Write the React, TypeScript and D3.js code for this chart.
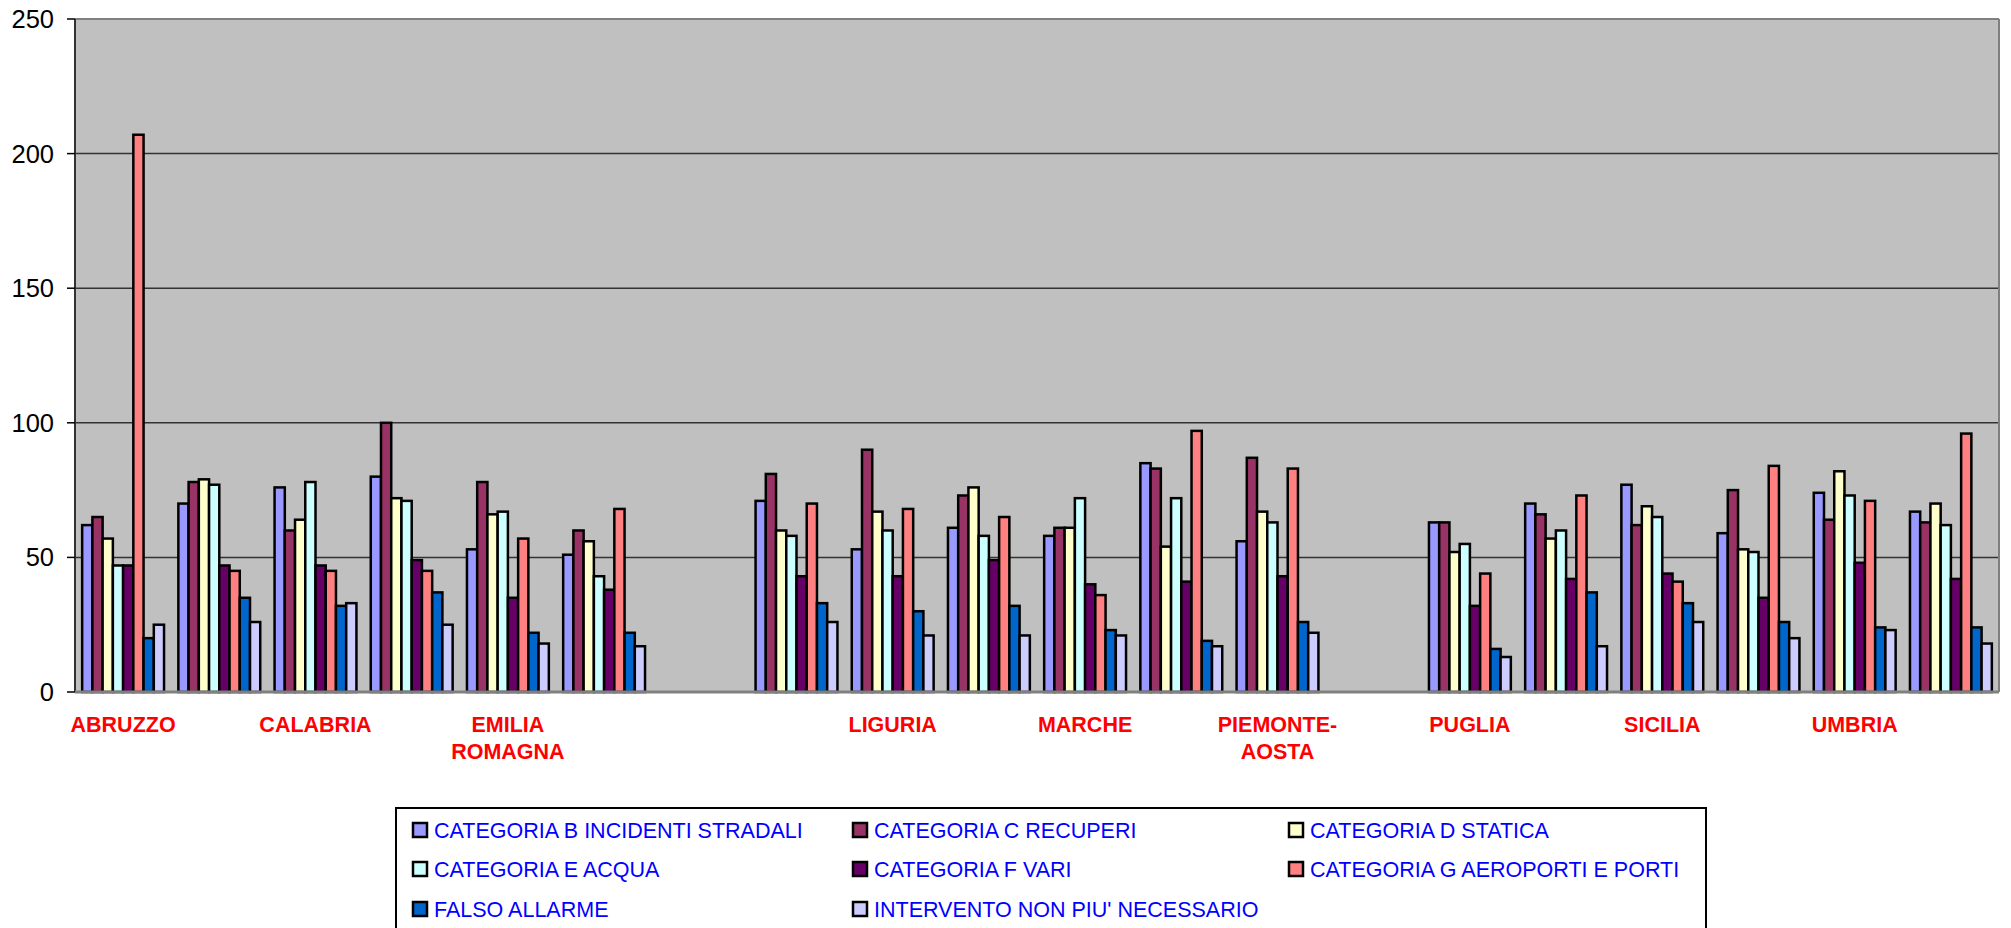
import React from "react";
import * as d3 from "d3";

const categories = [
  "ABRUZZO", "BASILICATA", "CALABRIA", "CAMPANIA", "EMILIA ROMAGNA",
  "FRIULI VENEZIA GIULIA", "", "LAZIO", "LIGURIA", "LOMBARDIA",
  "MARCHE", "MOLISE", "PIEMONTE-AOSTA", " ", "PUGLIA",
  "SARDEGNA", "SICILIA", "TOSCANA", "UMBRIA", "VENETO",
];

const seriesNames = [
  "CATEGORIA B INCIDENTI STRADALI",
  "CATEGORIA C RECUPERI",
  "CATEGORIA D STATICA",
  "CATEGORIA E ACQUA",
  "CATEGORIA F VARI",
  "CATEGORIA G AEROPORTI E PORTI",
  "FALSO ALLARME",
  "INTERVENTO NON PIU' NECESSARIO",
];

const seriesColors = ["#9999FF", "#993366", "#FFFFCC", "#CCFFFF", "#660066", "#FF8080", "#0066CC", "#CCCCFF"];

const catB = [62, 70, 76, 80, 53, 51, null, 71, 53, 61, 58, 85, 56, null, 63, 70, 77, 59, 74, 67];
const catC = [65, 78, 60, 100, 78, 60, null, 81, 90, 73, 61, 83, 87, null, 63, 66, 62, 75, 64, 63];
const catD = [57, 79, 64, 72, 66, 56, null, 60, 67, 76, 61, 54, 67, null, 52, 57, 69, 53, 82, 70];
const catE = [47, 77, 78, 71, 67, 43, null, 58, 60, 58, 72, 72, 63, null, 55, 60, 65, 52, 73, 62];
const catF = [47, 47, 47, 49, 35, 38, null, 43, 43, 49, 40, 41, 43, null, 32, 42, 44, 35, 48, 42];
const catG = [207, 45, 45, 45, 57, 68, null, 70, 68, 65, 36, 97, 83, null, 44, 73, 41, 84, 71, 96];
const falsoAllarme = [20, 35, 32, 37, 22, 22, null, 33, 30, 32, 23, 19, 26, null, 16, 37, 33, 26, 24, 24];
const interventoNonNecessario = [25, 26, 33, 25, 18, 17, null, 26, 21, 21, 21, 17, 22, null, 13, 17, 26, 20, 23, 18];

const seriesValues = [catB, catC, catD, catE, catF, catG, falsoAllarme, interventoNonNecessario];

const yTicks = [0, 50, 100, 150, 200, 250];

const W = 2011;
const H = 928;
const plot = { left: 75, right: 1999, top: 19, bottom: 692 };
const FONT = "'Liberation Sans', Arial, Helvetica, sans-serif";

function wrapLabel(s: string): string[] {
  if (s.length <= 10) return [s];
  const hy = s.indexOf("-");
  if (hy >= 0) return [s.slice(0, hy + 1), s.slice(hy + 1)];
  const sp = s.indexOf(" ");
  if (sp >= 0) return [s.slice(0, sp), s.slice(sp + 1)];
  return [s];
}

export default function App() {
  const x0 = d3.scaleBand<string>().domain(categories).range([plot.left, plot.right]).padding(0);
  const x1 = d3
    .scaleBand<string>()
    .domain(seriesNames)
    .range([0, x0.bandwidth()])
    .paddingInner(0)
    .paddingOuter(0.7);
  const y = d3.scaleLinear().domain([0, 250]).range([plot.bottom, plot.top]);

  const legendCols = [413, 853, 1289];
  const legendRows = [830, 869, 909];

  return (
    <svg
      width={W}
      height={H}
      style={{ position: "absolute", left: 0, top: 0, background: "#fff" }}
      fontFamily={FONT}
    >
      <rect x={0} y={0} width={W} height={H} fill="#fff" />
      {/* plot area */}
      <rect x={plot.left} y={plot.top} width={plot.right - plot.left} height={plot.bottom - plot.top} fill="#C0C0C0" />
      {/* gridlines */}
      {yTicks
        .filter((t) => t > 0 && t < 250)
        .map((t) => (
          <line key={"g" + t} x1={plot.left} x2={plot.right} y1={y(t)} y2={y(t)} stroke="#333" strokeWidth={1.5} />
        ))}
      {/* border */}
      <line x1={plot.left} x2={plot.right} y1={plot.top} y2={plot.top} stroke="#808080" strokeWidth={2} />
      <line x1={plot.right} x2={plot.right} y1={plot.top} y2={plot.bottom} stroke="#808080" strokeWidth={2} />
      {/* bars */}
      {categories.map((c, ci) => (
        <g key={"c" + ci}>
          {seriesNames.map((s, si) => {
            const v = seriesValues[si][ci];
            if (v == null) return null;
            const bx = (x0(c) as number) + (x1(s) as number);
            return (
              <rect
                key={s}
                x={bx}
                y={y(v)}
                width={x1.bandwidth()}
                height={y(0) - y(v)}
                fill={seriesColors[si]}
                stroke="#000"
                strokeWidth={2.5}
              />
            );
          })}
        </g>
      ))}
      {/* axes */}
      <line x1={plot.left} x2={plot.left} y1={plot.top} y2={plot.bottom} stroke="#333" strokeWidth={2} />
      <line x1={plot.left} x2={plot.right} y1={plot.bottom} y2={plot.bottom} stroke="#808080" strokeWidth={3} />
      {yTicks.map((t) => (
        <g key={"t" + t}>
          <line x1={plot.left - 8} x2={plot.left} y1={y(t)} y2={y(t)} stroke="#000" strokeWidth={1.5} />
          <text x={54} y={y(t)} dy="0.35em" textAnchor="end" fontSize={25.5} fill="#000">
            {t}
          </text>
        </g>
      ))}
      {/* category labels */}
      {categories.map((c, ci) => {
        if (ci % 2 !== 0 || !c.trim()) return null;
        const cx = (x0(c) as number) + x0.bandwidth() / 2;
        const lines = wrapLabel(c);
        return (
          <text key={"l" + ci} x={cx} y={731.5} textAnchor="middle" fontSize={21.5} fontWeight="bold" fill="#FF0000">
            {lines.map((ln, li) => (
              <tspan key={li} x={cx} dy={li === 0 ? 0 : 27.5}>
                {ln}
              </tspan>
            ))}
          </text>
        );
      })}
      {/* legend */}
      <rect x={396} y={808} width={1310} height={140} fill="#fff" stroke="#000" strokeWidth={2} />
      {seriesNames.map((s, si) => {
        const col = si % 3;
        const row = Math.floor(si / 3);
        const lx = legendCols[col];
        const ly = legendRows[row];
        return (
          <g key={"lg" + si}>
            <rect x={lx} y={ly - 7} width={14} height={14} fill={seriesColors[si]} stroke="#000" strokeWidth={2.5} />
            <text x={lx + 21} y={ly} dy="0.35em" fontSize={21.5} fill="#0000FF">
              {s}
            </text>
          </g>
        );
      })}
    </svg>
  );
}
